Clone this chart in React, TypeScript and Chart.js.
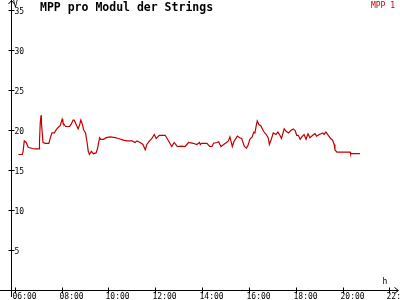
import React, { useEffect, useRef } from "react";
import { Chart, registerables } from "chart.js";

Chart.register(...registerables);

const TITLE = "MPP pro Modul der Strings";
const SERIES_NAME = "MPP 1";
const Y_UNIT = "V";
const X_UNIT = "h";

const times: string[] = [
  "06:08","06:18","06:20","06:23","06:28","06:33","06:44","06:50","07:01","07:02",
  "07:04","07:06","07:07","07:11","07:17","07:26","07:30","07:34","07:40","07:45",
  "07:52","07:55","08:00","08:02","08:09","08:19","08:23","08:28","08:31","08:36",
  "08:41","08:45","08:48","08:52","08:55","09:00","09:04","09:07","09:10","09:15",
  "09:20","09:27","09:31","09:36","09:39","09:46","09:53","10:03","10:16","10:24",
  "10:37","10:46","10:59","11:07","11:12","11:20","11:27","11:33","11:37","11:44",
  "11:50","11:56","12:01","12:09","12:24","12:28","12:35","12:41","12:47","12:55",
  "13:07","13:15","13:24","13:36","13:45","13:52",
  "13:54","13:58","14:11","14:18","14:24","14:28","14:37","14:41","14:47","14:54",
  "15:01","15:06","15:10","15:13","15:16","15:20","15:29","15:35","15:40","15:42",
  "15:47","15:52","15:56","16:01","16:07","16:11","16:14","16:17","16:20","16:24",
  "16:29","16:36","16:43","16:48","16:51","16:56","17:01","17:08","17:13","17:18",
  "17:22","17:29","17:34","17:40","17:46","17:52","17:57","18:01","18:05","18:10",
  "18:14","18:20","18:25","18:30","18:35","18:42","18:48","18:52","18:59","19:08",
  "19:11","19:16","19:22","19:28","19:33","19:37","19:39","19:44","20:18","20:19",
  "20:43",
];

const mpp1: number[] = [
  17.0,17.0,17.4,18.7,18.5,17.9,17.75,17.7,17.7,18.7,
  21.0,21.9,21.0,18.5,18.4,18.4,19.1,19.7,19.7,20.1,
  20.5,20.6,21.4,21.0,20.5,20.5,20.75,21.3,21.3,20.75,
  20.2,20.75,21.3,20.75,20.1,19.7,18.5,17.4,17.0,17.4,
  17.1,17.2,17.8,19.1,18.9,18.9,19.1,19.2,19.1,19.0,
  18.8,18.7,18.7,18.5,18.7,18.5,18.25,17.6,18.25,18.7,
  19.0,19.5,19.0,19.4,19.4,19.1,18.5,18.0,18.5,18.0,
  18.05,18.0,18.5,18.4,18.25,18.5,
  18.25,18.4,18.4,18.0,18.0,18.4,18.5,18.6,18.0,18.25,
  18.5,18.7,19.2,18.6,18.0,18.6,19.3,19.1,19.0,18.7,
  18.0,17.8,18.1,18.9,19.2,19.8,19.7,20.5,21.2,20.75,
  20.6,19.9,19.5,19.1,18.25,18.9,19.7,19.5,19.8,19.4,
  19.0,20.2,19.9,19.7,20.0,20.2,20.0,19.4,19.4,18.9,
  19.2,19.5,18.9,19.6,19.1,19.4,19.6,19.3,19.5,19.7,
  19.5,19.8,19.4,19.0,18.8,18.25,17.6,17.3,17.3,17.1,
  17.1,
];

const xTickLabels: string[] = ["06:00","08:00","10:00","12:00","14:00","16:00","18:00","20:00","22:00"];
const yTickValues: number[] = [5, 10, 15, 20, 25, 30, 35];

const toMin = (s: string) => {
  const [h, m] = s.split(":").map(Number);
  return h * 60 + m;
};

const X_MIN = 350.3;
const X_MAX = 1340.6;
const Y_MIN = 0;
const Y_MAX = 35.81;

const FONT_SMALL = '8px "DejaVu Sans Mono"';
const FONT_TITLE = 'bold 11.5px "DejaVu Sans Mono"';
const RED = "#c00000";

const axesPlugin = {
  id: "customAxes",
  afterDraw(chart: any) {
    const ctx = chart.ctx as CanvasRenderingContext2D;
    const xs = chart.scales.x;
    const ys = chart.scales.y;
    const x0 = Math.round(xs.getPixelForValue(X_MIN) - 0.5) + 0.5;
    const y0 = Math.round(ys.getPixelForValue(0) - 0.5) + 0.5;
    ctx.save();
    ctx.strokeStyle = "#000";
    ctx.fillStyle = "#000";
    ctx.lineWidth = 1;
    // y axis
    ctx.beginPath();
    ctx.moveTo(x0, 0);
    ctx.lineTo(x0, 297);
    ctx.stroke();
    // y arrow
    ctx.beginPath();
    ctx.moveTo(x0 - 3, 4);
    ctx.lineTo(x0, 0.5);
    ctx.lineTo(x0 + 3, 4);
    ctx.stroke();
    // x axis
    ctx.beginPath();
    ctx.moveTo(0, y0);
    ctx.lineTo(398, y0);
    ctx.stroke();
    // x arrow
    ctx.beginPath();
    ctx.moveTo(394.5, y0 - 3);
    ctx.lineTo(398.5, y0);
    ctx.lineTo(394.5, y0 + 3);
    ctx.stroke();

    ctx.font = FONT_SMALL;
    // y ticks
    ctx.textAlign = "left";
    ctx.textBaseline = "middle";
    for (const v of yTickValues) {
      const py = Math.round(ys.getPixelForValue(v) - 0.5) + 0.5;
      ctx.beginPath();
      ctx.moveTo(x0 - 3, py);
      ctx.lineTo(x0 + 3, py);
      ctx.stroke();
      ctx.fillText(String(v), x0 + 3, py + 1);
    }
    // x ticks
    for (const lbl of xTickLabels) {
      const px = Math.round(xs.getPixelForValue(toMin(lbl)) - 0.5) + 0.5;
      ctx.beginPath();
      ctx.moveTo(px, y0 - 3);
      ctx.lineTo(px, y0 + 3);
      ctx.stroke();
      ctx.fillText(lbl, px - 3, y0 + 6);
    }
    // units
    ctx.textAlign = "center";
    ctx.fillText(Y_UNIT, x0 + 4, 4.5);
    ctx.fillText(X_UNIT, 385, y0 - 9);

    // title
    ctx.textAlign = "left";
    ctx.font = FONT_TITLE;
    ctx.fillText(TITLE, 40, 8.5);
    // legend
    ctx.font = FONT_SMALL;
    ctx.textAlign = "right";
    ctx.fillStyle = RED;
    ctx.fillText(SERIES_NAME, 395, 5.5);
    ctx.restore();
  },
};

export default function App() {
  const ref = useRef<HTMLCanvasElement>(null);
  useEffect(() => {
    const canvas = ref.current;
    if (!canvas) return;
    const chart = new Chart(canvas, {
      type: "line",
      data: {
        datasets: [
          {
            label: SERIES_NAME,
            data: times.map((t, i) => ({ x: toMin(t), y: mpp1[i] })),
            borderColor: RED,
            borderWidth: 1.2,
            pointRadius: 0,
            tension: 0,
            fill: false,
          },
        ],
      },
      options: {
        animation: false,
        responsive: false,
        events: [],
        layout: { padding: { left: 11.5, right: 2, top: 4, bottom: 9.5 } },
        plugins: { legend: { display: false }, title: { display: false }, tooltip: { enabled: false } },
        scales: {
          x: { type: "linear", min: X_MIN, max: X_MAX, display: false },
          y: { type: "linear", min: Y_MIN, max: Y_MAX, display: false },
        },
      },
      plugins: [axesPlugin],
    });
    return () => chart.destroy();
  }, []);
  return (
    <div style={{ position: "fixed", left: 0, top: 0, width: 400, height: 300, background: "#fff" }}>
      <canvas ref={ref} width={400} height={300} style={{ display: "block", width: 400, height: 300 }} />
    </div>
  );
}
